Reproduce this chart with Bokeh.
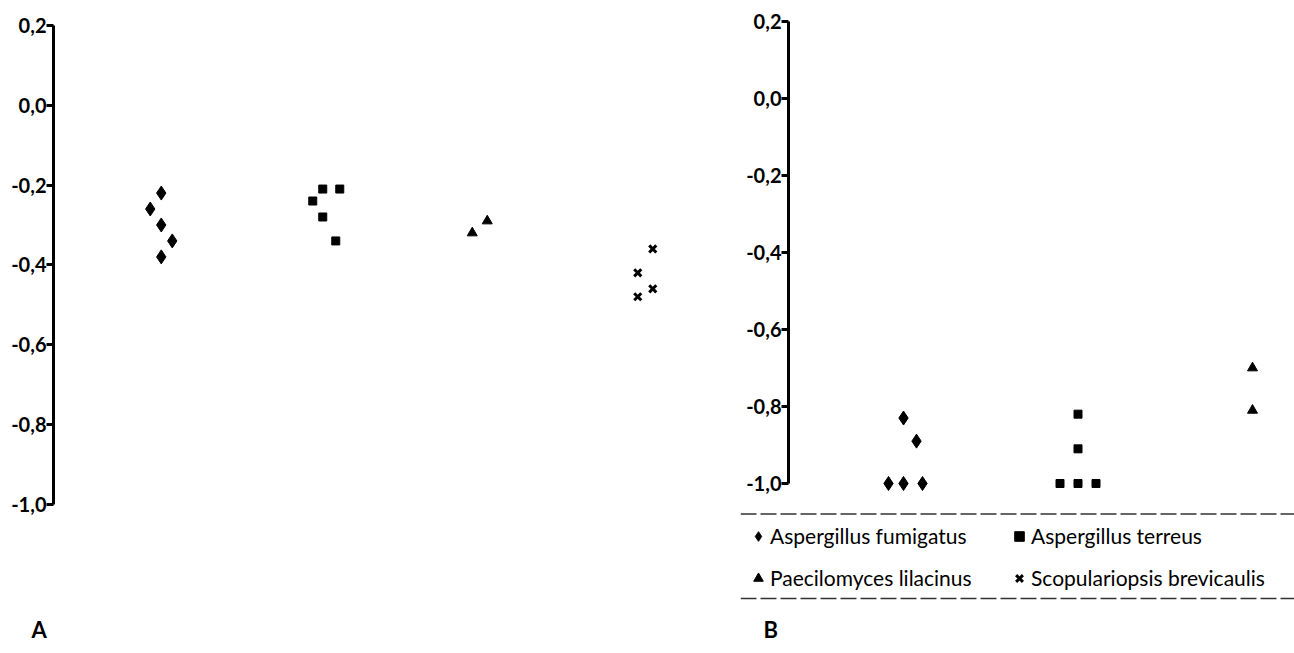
from bokeh.plotting import figure
from bokeh.layouts import row
from bokeh.models import (FixedTicker, CustomJSTickFormatter, Legend, LegendItem,
                          Span, Range1d, Title, ColumnDataSource)
from bokeh.embed import file_html
from bokeh.resources import INLINE

# ---------------- data ----------------
species = ["Aspergillus fumigatus", "Aspergillus terreus",
           "Paecilomyces lilacinus", "Scopulariopsis brevicaulis"]
markers = ["diamond", "square", "triangle", "x"]
y_ticks = [0.2, 0.0, -0.2, -0.4, -0.6, -0.8, -1.0]

# Panel A
a_fumigatus = [-0.22, -0.26, -0.30, -0.34, -0.38]
a_terreus = [-0.21, -0.21, -0.24, -0.28, -0.34]
a_lilacinus = [-0.32, -0.29]
a_brevicaulis = [-0.36, -0.42, -0.46, -0.48]

# Panel B
b_fumigatus = [-0.83, -0.89, -1.0, -1.0, -1.0]
b_terreus = [-0.82, -0.91, -1.0, -1.0, -1.0]
b_lilacinus = [-0.70, -0.81]
b_brevicaulis = []

# ---------------- layout (pixel jitter of overlapping points) ----------------
a_jitter_px = [[-1, -12, -1, 10, -1], [0, 17, -10, 0, 13], [-11, 4], [9, -6, 9, -6]]
b_jitter_px = [[0, 13, -15, 0, 19], [0, 0, -18, 0, 18], [0, 0], []]
A_PPU_X, B_PPU_X = 160.5, 174.5
A_PPU_Y, B_PPU_Y = 401, 387

FONT = "Lato"
sizes = {"diamond": 14, "square": 8, "triangle": 10, "x": 10}


def style_axis(p, fixed=None):
    ax = p.yaxis[0]
    ax.ticker = FixedTicker(ticks=y_ticks)
    ax.formatter = CustomJSTickFormatter(code="return tick.toFixed(1).replace('.', ',');")
    ax.bounds = (-1.0, 0.2)
    ax.axis_line_width = 3
    ax.axis_line_color = "black"
    ax.major_tick_line_width = 3
    ax.major_tick_line_color = "black"
    ax.major_tick_out = 7
    ax.major_tick_in = 0
    ax.minor_tick_line_color = None
    ax.major_label_standoff = 0
    ax.major_label_text_font = FONT
    ax.major_label_text_font_style = "bold"
    ax.major_label_text_font_size = "20px"
    ax.major_label_text_color = "black"
    if fixed is not None:
        ax.fixed_location = fixed


def add_points(p, groups, jitter, ppu):
    rends = []
    for i, (vals, jit, mk) in enumerate(zip(groups, jitter, markers)):
        if vals:
            xs = [i + 1 + j / ppu for j in jit]
            ys = list(vals)
        else:
            xs, ys = [float("nan")], [float("nan")]
        src = ColumnDataSource(dict(x=xs, y=ys))
        r = p.scatter("x", "y", source=src, marker=mk, size=sizes[mk],
                      fill_color="black", line_color="black",
                      line_width=3 if mk == "x" else 1)
        rends.append(r)
    return rends


H = 653
BOTTOM = 47
FRAME_BOTTOM = H - BOTTOM
A_W = 690
B_W = 1294 - A_W

# ---------------- panel A ----------------
A_LEFT = 53
A_X0 = 1 - (161.75 - A_LEFT) / A_PPU_X
pA = figure(width=A_W, height=H, output_backend="svg", toolbar_location=None,
            title=None, x_axis_location=None, frame_align=False,
            x_range=Range1d(A_X0, A_X0 + (A_W - A_LEFT) / A_PPU_X),
            y_range=Range1d(0.2 - (FRAME_BOTTOM - 25) / A_PPU_Y, 0.2),
            min_border_left=A_LEFT, min_border_right=0, min_border_top=25,
            min_border_bottom=BOTTOM)
pA.grid.visible = False
pA.outline_line_color = None
style_axis(pA)
add_points(pA, [a_fumigatus, a_terreus, a_lilacinus, a_brevicaulis], a_jitter_px, A_PPU_X)
pA.add_layout(Title(text="A", align="left", offset=-22, standoff=21, text_color="black",
                    text_font=FONT, text_font_size="22px", text_font_style="bold"), "below")

# ---------------- panel B ----------------
B_LEFT = 50
B_FRAME_LEFT = A_W + B_LEFT
B_X0 = 1 - (903 - B_FRAME_LEFT) / B_PPU_X
pB = figure(width=B_W, height=H, output_backend="svg", toolbar_location=None,
            title=None, x_axis_location=None, frame_align=False,
            x_range=Range1d(B_X0, B_X0 + (B_W - B_LEFT) / B_PPU_X),
            y_range=Range1d(0.2 - (FRAME_BOTTOM - 21) / B_PPU_Y, 0.2 + 21 / B_PPU_Y),
            min_border_left=B_LEFT, min_border_right=0, min_border_top=0,
            min_border_bottom=BOTTOM)
pB.grid.visible = False
pB.outline_line_color = None
style_axis(pB, fixed=B_X0 + (788 - B_FRAME_LEFT) / B_PPU_X)
rB = add_points(pB, [b_fumigatus, b_terreus, b_lilacinus, b_brevicaulis], b_jitter_px, B_PPU_X)

for ypx in (516, 601):
    pB.add_layout(Span(location=0.2 - (ypx - 21) / B_PPU_Y, dimension="width",
                       line_color="#333333", line_width=1.5, line_dash="16 4"))

order = [0, 2, 1, 3]
legend = Legend(items=[LegendItem(label=species[i], renderers=[rB[i]]) for i in order],
                ncols=2, location=(6, 13), padding=6, spacing=17,
                glyph_width=24, glyph_height=24, label_height=22, label_width=220,
                label_standoff=-5,
                label_text_font=FONT, label_text_font_size="21px", label_text_color="black",
                background_fill_alpha=0, border_line_color=None)
pB.add_layout(legend, "center")
pB.add_layout(Title(text="B", align="left", offset=23, standoff=21, text_color="black",
                    text_font=FONT, text_font_size="22px", text_font_style="bold"), "below")

layout = row(pA, pB)
open("out.html", "w").write(file_html(layout, INLINE))
